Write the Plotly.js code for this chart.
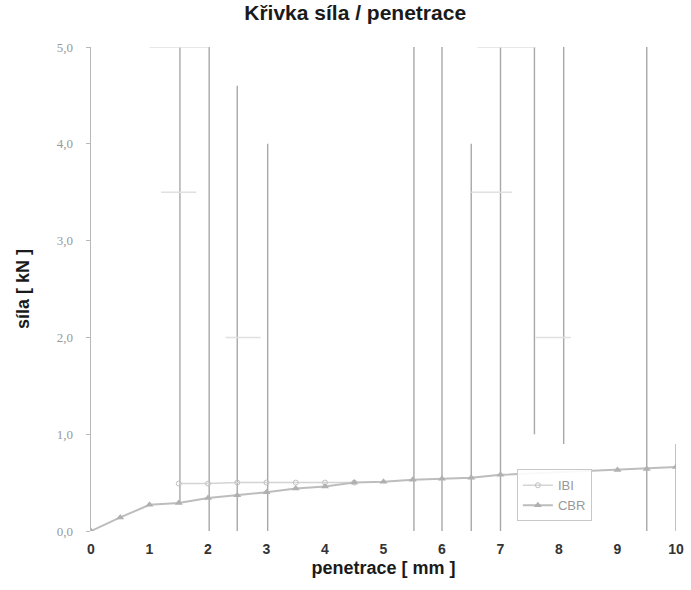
<!DOCTYPE html>
<html>
<head>
<meta charset="utf-8">
<script src="https://cdn.plot.ly/plotly-3.0.1.min.js"></script>
<style>html,body{margin:0;padding:0;background:#fff;}#chart{width:691px;height:590px;}</style>
</head>
<body>
<div id="chart"></div>
<script>
// penetration [mm]
var penetrace = [0, 0.5, 1, 1.5, 2, 2.5, 3, 3.5, 4, 4.5, 5, 5.5, 6, 6.5, 7, 9, 9.5, 10];
// CBR curve force [kN]
var silaCBR = [0.0, 0.14, 0.27, 0.29, 0.34, 0.37, 0.40, 0.44, 0.46, 0.50, 0.51, 0.53, 0.54, 0.55, 0.58, 0.63, 0.64, 0.66];
// IBI curve
var penetraceIBI = [1.5, 2, 2.5, 3, 3.5, 4, 4.5];
var silaIBI = [0.49, 0.49, 0.50, 0.50, 0.50, 0.50, 0.50];

// scan artefacts: vertical strokes (x, y from, y to)
var artX = [1.52, 2.02, 2.5, 3.02, 5.52, 6.0, 6.5, 7.0, 7.58, 8.08, 9.5, 10.0];
var artY0 = [0.3, 0.0, 0.0, 0.0, 0.0, 0.0, 0.0, 0.0, 1.0, 0.9, 0.0, 0.0];
var artY1 = [5.0, 5.0, 4.6, 4.0, 5.0, 5.0, 4.0, 5.0, 5.0, 5.0, 5.0, 0.9];
// horizontal strokes (x from, x to, y)
var artHX0 = [1.0, 6.6, 1.2, 6.5, 2.3, 7.6];
var artHX1 = [2.0, 7.6, 1.8, 7.2, 2.9, 8.2];
var artHY = [5.0, 5.0, 3.5, 3.5, 2.0, 2.0];

var vx = [], vy = [], hx = [], hy = [];
for (var i = 0; i < artX.length; i++) { vx.push(artX[i], artX[i], null); vy.push(artY0[i], artY1[i], null); }
for (var j = 0; j < artHX0.length; j++) { hx.push(artHX0[j], artHX1[j], null); hy.push(artHY[j], artHY[j], null); }

var yTicks = [0, 1, 2, 3, 4, 5];
var xTicks = [0, 1, 2, 3, 4, 5, 6, 7, 8, 9, 10];

var traces = [
  {x: vx, y: vy, mode: 'lines', line: {color: '#a8a8a8', width: 1.4}, showlegend: false, hoverinfo: 'skip'},
  {x: hx, y: hy, mode: 'lines', line: {color: '#e0e0e0', width: 1.5}, showlegend: false, hoverinfo: 'skip'},
  {x: penetraceIBI, y: silaIBI, name: 'IBI', mode: 'lines+markers',
   line: {color: '#d4d4d4', width: 1.5}, marker: {symbol: 'circle-open', size: 5, color: '#c0c0c0'}},
  {x: penetrace, y: silaCBR, name: 'CBR', mode: 'lines+markers',
   line: {color: '#bdbdbd', width: 2}, marker: {symbol: 'triangle-up', size: 7, color: '#b0b0b0'}}
];

var layout = {
  width: 691, height: 590,
  paper_bgcolor: '#ffffff', plot_bgcolor: '#ffffff',
  margin: {l: 91, r: 15, t: 47, b: 59},
  separators: ', ',
  title: {text: 'Křivka síla / penetrace', x: 0.514, xanchor: 'center', y: 0.978, yanchor: 'middle',
          font: {family: 'Liberation Sans, Arial, sans-serif', size: 21, color: '#1a1a1a', weight: 'bold'}},
  xaxis: {
    range: [0, 10], tickvals: xTicks, showgrid: false, zeroline: false, showline: false,
    ticks: '', ticklabelstandoff: 8,
    tickfont: {family: 'Liberation Sans, Arial, sans-serif', size: 14, color: '#333', weight: 'bold'},
    title: {text: 'penetrace [ mm ]', standoff: 5, font: {family: 'Liberation Sans, Arial, sans-serif', size: 18, color: '#1a1a1a', weight: 'bold'}}
  },
  yaxis: {
    range: [0, 5], tickvals: yTicks, tickformat: '.1f', showgrid: false, zeroline: false,
    showline: true, linecolor: '#b8b8b8', linewidth: 1.5, ticks: 'outside', ticklen: 4, tickcolor: '#b8b8b8',
    ticklabelstandoff: 10,
    tickfont: {family: 'Liberation Serif, serif', size: 13, color: '#999'},
    title: {text: 'síla [ kN ]', standoff: 22, font: {family: 'Liberation Sans, Arial, sans-serif', size: 18, color: '#1a1a1a', weight: 'bold'}}
  },
  legend: {x: 0.728, y: 0.02, xanchor: 'left', yanchor: 'bottom', bgcolor: 'rgba(255,255,255,0.9)',
           bordercolor: '#c8c8c8', borderwidth: 1, tracegroupgap: 0,
           font: {family: 'Liberation Sans, Arial, sans-serif', size: 13, color: '#999'}}
};

Plotly.newPlot('chart', traces, layout, {displayModeBar: false, staticPlot: true});
</script>
</body>
</html>
